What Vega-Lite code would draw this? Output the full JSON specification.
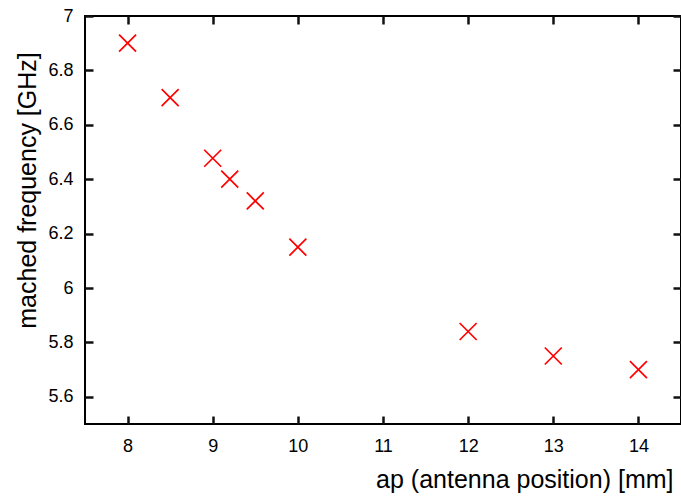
{
  "$schema": "https://vega.github.io/schema/vega-lite/v6.json",
  "autosize": "none",
  "width": 596,
  "height": 408,
  "padding": {"left": 85, "top": 16, "right": 0, "bottom": 72},
  "background": "white",
  "config": {
    "view": {"stroke": "black", "strokeWidth": 2},
    "font": "Liberation Sans",
    "axis": {
      "grid": false,
      "domain": false,
      "labelFont": "Liberation Sans",
      "labelFontSize": 18,
      "labelColor": "black",
      "titleFont": "Liberation Sans",
      "titleFontSize": 25,
      "titleFontWeight": "normal",
      "titleColor": "black"
    }
  },
  "data": {
    "values": [
      {"ap": 8, "freq": 6.90},
      {"ap": 8.5, "freq": 6.70},
      {"ap": 9, "freq": 6.477},
      {"ap": 9.2, "freq": 6.40},
      {"ap": 9.5, "freq": 6.32},
      {"ap": 10, "freq": 6.15},
      {"ap": 12, "freq": 5.84},
      {"ap": 13, "freq": 5.75},
      {"ap": 14, "freq": 5.70}
    ]
  },
  "layer": [
    {
      "mark": {"type": "point", "shape": "M-1,-1L1,1M-1,1L1,-1", "stroke": "#ff0000", "strokeWidth": 1.7, "size": 289, "filled": false, "opacity": 1},
      "encoding": {
        "x": {"field": "ap", "type": "quantitative", "scale": {"domain": [7.5, 14.5], "nice": false, "zero": false},
          "axis": {"orient": "bottom", "offset": -8, "ticks": true, "tickColor": "#111111", "tickWidth": 2.5, "tickSize": 8, "values": [8, 9, 10, 11, 12, 13, 14], "format": "~g", "labelPadding": 13, "title": "ap (antenna position) [mm]", "titleAlign": "right", "titleBaseline": "alphabetic", "titleX": 588, "titleY": 71}},
        "y": {"field": "freq", "type": "quantitative", "scale": {"domain": [5.5, 7.0], "nice": false, "zero": false},
          "axis": {"orient": "left", "offset": -8, "ticks": true, "tickColor": "#111111", "tickWidth": 2.5, "tickSize": 8, "values": [5.6, 5.8, 6, 6.2, 6.4, 6.6, 6.8, 7], "format": "~g", "labelPadding": 12, "title": "mached frequency [GHz]", "titleAlign": "center", "titleBaseline": "alphabetic", "titleX": -58, "titleY": 174}}
      }
    },
    {
      "mark": {"type": "point", "opacity": 0},
      "encoding": {
        "x": {"field": "ap", "type": "quantitative", "scale": {"domain": [7.5, 14.5], "nice": false, "zero": false},
          "axis": {"orient": "top", "offset": -8, "ticks": true, "tickColor": "#111111", "tickWidth": 2.5, "tickSize": 8, "values": [8, 9, 10, 11, 12, 13, 14], "labels": false, "title": null}},
        "y": {"field": "freq", "type": "quantitative", "scale": {"domain": [5.5, 7.0], "nice": false, "zero": false},
          "axis": {"orient": "right", "offset": -8, "ticks": true, "tickColor": "#111111", "tickWidth": 2.5, "tickSize": 8, "values": [5.6, 5.8, 6, 6.2, 6.4, 6.6, 6.8, 7], "labels": false, "title": null}}
      }
    }
  ],
  "resolve": {"axis": {"x": "independent", "y": "independent"}}
}
